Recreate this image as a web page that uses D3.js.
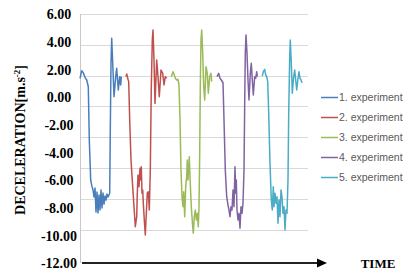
<!DOCTYPE html>
<html><head><meta charset="utf-8">
<script src="https://cdn.jsdelivr.net/npm/d3@7"></script>
<style>html,body{margin:0;padding:0;background:#fff;}svg{display:block;}</style>
</head><body>
<svg id="c" width="412" height="279"></svg>
<script>
// ---- data (time in arbitrary units, deceleration in m.s-2) ----
const seriesNames = ["1. experiment","2. experiment","3. experiment","4. experiment","5. experiment"];
const seriesColors = ["#4a7ebb","#c0504d","#9bbb59","#8064a2","#4bacc6"];
const yTickLabels = ["6.00","4.00","2.00","0.00","-2.00","-4.00","-6.00","-8.00","-10.00","-12.00"];
const xLabel = "TIME";
const yLabel = "DECELERATION[m.s";

const exp1 = [[0,1.35],[1.7,1.90],[3.3,1.76],[5,1.42],[6.7,1.23],[8.3,0.74],[9.3,-3.11],[10.7,-6.00],[12,-6.48],[13,-6.72],[14,-7.23],[15,-6.58],[16,-8.31],[17,-6.87],[18,-8.39],[19,-7.08],[20,-8.17],[21,-6.72],[22,-8.02],[23,-6.94],[24,-7.74],[25,-7.16],[26,-7.45],[27,-7.01],[28,-7.23],[29,-7.08],[29.7,-6.96],[30.3,-2.39],[31,2.46],[31.7,4.24],[32.7,2.46],[34,0.02],[35.7,1.47],[36.7,2.07],[38.3,0.51],[39.7,1.47],[40.7,0.87],[41.3,1.47]];
const exp2 = [[46,1.47],[46.7,1.66],[48,1.28],[48.7,1.11],[49.7,-1.66],[51,-4.55],[52.7,-6.48],[54,-7.93],[55.3,-9.38],[56.7,-8.65],[57.3,-6.96],[58,-5.64],[59,-6.48],[60,-5.15],[60.7,-6.00],[61.3,-5.04],[62,-6.96],[62.7,-6.72],[63.3,-7.68],[64.3,-8.89],[65.3,-9.98],[66.3,-8.41],[67.3,-6.96],[68.3,-6.85],[69.3,-8.17],[70.3,-5.28],[71.3,0.74],[72.3,4.12],[73,4.84],[74,2.67],[75,-0.46],[76.7,2.67],[78,1.47],[79.3,0.02],[81,1.95],[82.7,1.71],[84,0.87],[85.3,1.47],[86.7,1.35]];
const exp3 = [[91.3,1.47],[93,1.83],[94.3,1.59],[95.3,1.35],[96.7,1.23],[98,1.28],[99,0.87],[100,-1.66],[101,-5.28],[102,-7.21],[103,-7.93],[103.7,-6.85],[104.7,-8.65],[105.7,-6.48],[106.7,-5.76],[107.3,-4.55],[108,-6.00],[108.7,-5.15],[109.3,-4.32],[110,-5.76],[110.7,-6.96],[111.3,-7.93],[112,-8.65],[112.7,-9.38],[113.3,-9.85],[114.3,-8.65],[115.3,-8.17],[116.3,-8.89],[117.3,-8.41],[118.3,-9.38],[119,-7.93],[119.7,-4.07],[120.3,0.74],[121,4.12],[121.7,4.84],[122.7,3.16],[123.7,0.74],[124.7,-0.22],[126,2.19],[127.3,1.71],[128.3,0.27],[129.7,1.47],[131,1.71],[131.7,1.11]];
const exp4 = [[137,1.47],[138.7,1.71],[140,1.35],[141.3,1.23],[143,1.03],[144,-1.66],[145.3,-5.28],[146.7,-7.21],[148,-7.81],[149,-8.17],[150,-8.65],[151,-7.93],[152,-8.17],[153,-6.72],[154,-7.93],[155,-5.04],[155.7,-6.96],[156.3,-6.00],[157,-8.17],[158,-8.89],[159,-8.41],[160,-9.49],[161,-7.93],[162,-8.41],[163,-7.68],[164,-5.28],[164.7,-0.46],[165.3,3.16],[166,4.48],[167,3.16],[168,1.23],[169,-0.22],[170.3,1.71],[171.3,2.44],[172.3,1.23],[173.3,0.14],[174.7,1.47],[175.7,1.35],[176.7,1.83],[177.3,1.47]];
const exp5 = [[182.3,1.52],[183.3,1.83],[184.7,2.00],[185.7,1.59],[186.7,1.47],[187.7,1.11],[188.7,-1.18],[190,-4.79],[191.3,-7.45],[192.3,-8.17],[193.3,-6.48],[194,-7.93],[195,-6.96],[196,-7.68],[197,-7.21],[198,-9.13],[199,-7.45],[200,-8.65],[201,-6.72],[202,-7.21],[203,-8.41],[204,-7.93],[205,-9.61],[206,-8.17],[207,-8.41],[208,-6.00],[208.7,-1.18],[209.7,2.91],[210.3,4.12],[211.3,2.44],[212.3,0.27],[213.7,1.47],[214.7,1.95],[215.7,1.23],[216.7,0.51],[218,1.35],[219,1.83],[220,1.35],[221,1.23],[222,1.03]];
const allSeries = [exp1,exp2,exp3,exp4,exp5];

// ---- layout ----
const svg = d3.select("#c");
const plotLeft = 80, plotRight = 308, plotTop = 14, plotBottom = 263;
const x = d3.scaleLinear().domain([0,228]).range([plotLeft,plotRight]);
const y = d3.scaleLinear().domain([6,-12]).range([plotTop,plotBottom]);
// horizontal gridlines of the original chart (8 bands)
const grid = d3.scaleLinear().domain([0,8]).range([plotTop,260.4]);

svg.append("g").selectAll("line").data(d3.range(0,8)).join("line")
  .attr("x1",plotLeft).attr("x2",plotRight)
  .attr("y1",d=>Math.round(grid(d))+0.5).attr("y2",d=>Math.round(grid(d))+0.5)
  .attr("stroke","#d9d9d9").attr("stroke-width",1);

// vertical axis line
svg.append("line").attr("x1",plotLeft+0.5).attr("x2",plotLeft+0.5)
  .attr("y1",plotTop).attr("y2",plotBottom).attr("stroke","#c8c8c8").attr("stroke-width",1);

// y tick labels via axis
const yAxis = d3.axisLeft(y).tickValues(yTickLabels.map(Number)).tickSize(0)
  .tickFormat((d,i)=>yTickLabels[i]);
const ga = svg.append("g").attr("transform","translate(59,0)").call(yAxis);
ga.select(".domain").remove();
ga.selectAll("text").attr("x",0).attr("text-anchor","middle").attr("dy","0.35em")
  .attr("font-family","'Liberation Serif', serif").attr("font-weight","bold")
  .attr("font-size","14px").attr("fill","#000");

// series lines
const line = d3.line().x(d=>x(d[0])).y(d=>y(d[1]));
svg.append("g").selectAll("path").data(allSeries).join("path")
  .attr("d",line).attr("fill","none")
  .attr("stroke",(d,i)=>seriesColors[i]).attr("stroke-width",1.5)
  .attr("stroke-linejoin","round");

// time arrow
svg.append("line").attr("x1",82).attr("x2",318).attr("y1",263).attr("y2",263)
  .attr("stroke","#222").attr("stroke-width",2.2);
svg.append("path").attr("d","M317,258.5 L327,263 L317,267.5 Z").attr("fill","#000");

svg.append("text").attr("x",378).attr("y",263).attr("dy","0.35em")
  .attr("text-anchor","middle").attr("font-family","'Liberation Serif', serif")
  .attr("font-weight","bold").attr("font-size","13px").attr("fill","#000").text(xLabel);

// y title
const yt = svg.append("text").attr("transform","translate(25,140) rotate(-90)")
  .attr("text-anchor","middle").attr("font-family","'Liberation Serif', serif")
  .attr("font-weight","bold").attr("font-size","14px").attr("fill","#000");
yt.append("tspan").text(yLabel);
yt.append("tspan").attr("font-size","9px").attr("dy","-5").text("-2");
yt.append("tspan").attr("dy","5").text("]");

// legend
const lg = svg.append("g").selectAll("g").data(seriesNames).join("g")
  .attr("transform",(d,i)=>`translate(321,${97+i*20})`);
lg.append("line").attr("x1",0).attr("x2",17).attr("y1",0.5).attr("y2",0.5)
  .attr("stroke",(d,i)=>seriesColors[i]).attr("stroke-width",1.5);
lg.append("text").attr("x",18).attr("y",0).attr("dy","0.35em")
  .attr("font-family","'Liberation Sans', Arial, sans-serif").attr("font-size","10.5px")
  .attr("fill","#595959").text(d=>d);
</script>
</body></html>
